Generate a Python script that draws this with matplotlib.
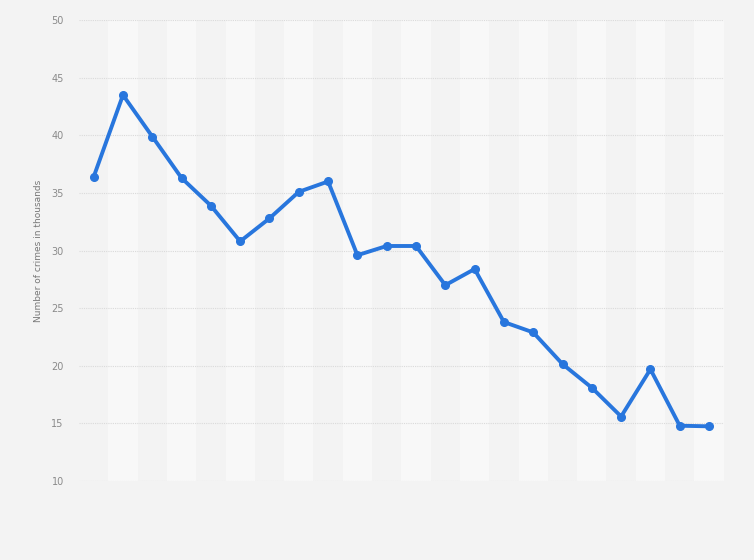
import matplotlib.pyplot as plt
import numpy as np

# Number of crimes (thousands), one point per year, years not labelled on the chart
crimes = [36.4, 43.5, 39.9, 36.3, 33.9, 30.8, 32.8, 35.1, 36.0, 29.6, 30.4,
          30.4, 27.0, 28.4, 23.8, 22.9, 20.15, 18.1, 15.6, 19.7, 14.8, 14.75]
y_ticks = [10, 15, 20, 25, 30, 35, 40, 45, 50]
y_label = "Number of crimes in thousands"

bg = "#f3f3f3"
light = "#f8f8f8"
blue = "#2876dd"

fig = plt.figure(figsize=(7.54, 5.6), dpi=100, facecolor=bg)
ax = fig.add_axes([0.1048, 0.141, 0.855, 0.823])
ax.set_facecolor(bg)

x = np.arange(len(crimes))

# alternating vertical bands, lighter on odd positions
for i in x:
    if i % 2 == 1:
        ax.axvspan(i - 0.5, i + 0.5, color=light, lw=0, zorder=0)

ax.plot(x, crimes, color=blue, lw=2.8, marker="o", markersize=5.5,
        solid_joinstyle="round", zorder=3)

ax.set_xlim(-0.5, len(crimes) - 0.5)
ax.set_ylim(10, 50)
ax.set_yticks(y_ticks)
ax.set_xticks([])
ax.yaxis.grid(True, color="#dadada", lw=0.8, ls=(0, (1, 1)), zorder=1)
ax.set_axisbelow(True)
for s in ax.spines.values():
    s.set_visible(False)
ax.tick_params(axis="y", length=0, pad=11, labelsize=7, labelcolor="#8a8a8a")
ax.set_ylabel(y_label, fontsize=6.5, color="#777777", labelpad=6)

fig.savefig("out.png", dpi=100, facecolor=bg)
